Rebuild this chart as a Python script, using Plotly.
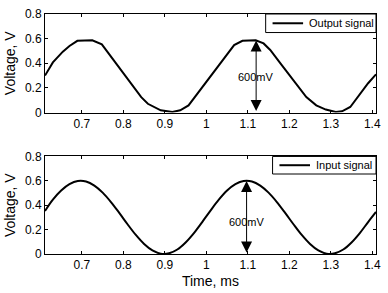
import plotly.graph_objects as go

# Output signal (top), vertices
t_out = [0.611, 0.63, 0.654, 0.67, 0.689, 0.725, 0.748, 0.77, 0.795, 0.82, 0.843,
         0.859, 0.878, 0.89, 0.918, 0.937, 0.957, 0.98, 1.005, 1.03, 1.05, 1.067,
         1.087, 1.119, 1.138, 1.154, 1.18, 1.2, 1.22, 1.241, 1.265, 1.288, 1.312,
         1.327, 1.347, 1.37, 1.39, 1.409]
v_out = [0.30, 0.407, 0.494, 0.54, 0.582, 0.587, 0.553, 0.454, 0.341, 0.229, 0.125,
         0.071, 0.04, 0.018, 0.005, 0.018, 0.058, 0.160, 0.272, 0.383, 0.472, 0.548,
         0.582, 0.587, 0.561, 0.508, 0.393, 0.305, 0.217, 0.125, 0.058, 0.024, 0.005,
         0.01, 0.045, 0.148, 0.238, 0.31]

# Input signal (bottom)
t_in = [0.611, 0.63, 0.65, 0.67, 0.69, 0.71, 0.73, 0.75, 0.77, 0.79, 0.81, 0.83, 0.85,
        0.87, 0.89, 0.91, 0.93, 0.95, 0.97, 0.99, 1.01, 1.03, 1.05, 1.07, 1.09, 1.11,
        1.13, 1.15, 1.17, 1.19, 1.21, 1.23, 1.25, 1.27, 1.29, 1.31, 1.33, 1.35, 1.37,
        1.39, 1.409]
v_in = [0.352, 0.445, 0.52, 0.572, 0.598, 0.594, 0.561, 0.503, 0.426, 0.337, 0.244,
        0.156, 0.082, 0.029, 0.003, 0.006, 0.037, 0.095, 0.172, 0.262, 0.356, 0.445,
        0.52, 0.572, 0.598, 0.594, 0.561, 0.503, 0.426, 0.337, 0.244, 0.156, 0.082,
        0.029, 0.003, 0.006, 0.037, 0.095, 0.172, 0.262, 0.345]

x_ticks = [0.7, 0.8, 0.9, 1.0, 1.1, 1.2, 1.3, 1.4]
x_tick_labels = ["0.7", "0.8", "0.9", "1", "1.1", "1.2", "1.3", "1.4"]
y_ticks = [0, 0.2, 0.4, 0.6, 0.8]
y_tick_labels = ["0", "0.2", "0.4", "0.6", "0.8"]

arrow_top_x, arrow_top_y = 1.12, 0.585
arrow_bot_x, arrow_bot_y = 1.097, 0.598
label_text = "600mV"

W, H = 388, 293
ml, mr, mt, mb = 45, 7, 8, 39
ph = H - mt - mb
pw = W - ml - mr

def ypos(px):
    return (H - mb - px) / ph

fig = go.Figure()
fig.add_trace(go.Scatter(x=t_out, y=v_out, mode="lines", name="Output signal",
                         line=dict(color="black", width=2), xaxis="x", yaxis="y"))
fig.add_trace(go.Scatter(x=t_in, y=v_in, mode="lines", name="Input signal",
                         line=dict(color="black", width=2, shape="spline"),
                         xaxis="x2", yaxis="y2"))

font = "Liberation Sans, Arial, sans-serif"
axcommon = dict(range=[0.611, 1.409], tickvals=x_ticks, ticktext=x_tick_labels,
                ticks="inside", ticklen=3, tickcolor="black", mirror="ticks",
                showline=True, linecolor="black", linewidth=1, showgrid=False,
                zeroline=False, tickfont=dict(size=12, color="black", family=font))
aycommon = dict(range=[0, 0.8], tickvals=y_ticks, ticktext=y_tick_labels,
                ticks="inside", ticklen=3, tickcolor="black", mirror="ticks",
                showline=True, linecolor="black", linewidth=1, showgrid=False,
                zeroline=False, tickfont=dict(size=12, color="black", family=font),
                title=dict(text="Voltage, V", font=dict(size=14, color="black", family=font),
                           standoff=6))

top_dom = [ypos(109), 1.0]
bot_dom = [0.0, ypos(154)]

fig.update_layout(
    width=W, height=H, autosize=False,
    margin=dict(l=ml, r=mr, t=mt, b=mb),
    paper_bgcolor="white", plot_bgcolor="white",
    showlegend=False,
    xaxis=dict(**axcommon, anchor="y", domain=[0, 1]),
    yaxis=dict(**aycommon, anchor="x", domain=top_dom),
    xaxis2=dict(**axcommon, anchor="y2", domain=[0, 1],
                title=dict(text="Time, ms", font=dict(size=14, color="black", family=font),
                           standoff=4)),
    yaxis2=dict(**aycommon, anchor="x2", domain=bot_dom),
)

def legend_box(x0, x1, y0, y1, text):
    fig.add_shape(type="rect", xref="paper", yref="paper", x0=x0, x1=x1, y0=y0, y1=y1,
                  line=dict(color="black", width=1), fillcolor="white")
    ly = (y0 + y1) / 2
    fig.add_shape(type="line", xref="paper", yref="paper",
                  x0=x0 + 7 / pw, x1=x0 + 38 / pw, y0=ly, y1=ly,
                  line=dict(color="black", width=2))
    fig.add_annotation(xref="paper", yref="paper", x=x0 + 42 / pw, y=ly, text=text,
                       showarrow=False, xanchor="left", yanchor="middle",
                       font=dict(size=11, color="black", family=font))

legend_box((269 - ml) / pw, 1.0, ypos(27), 1.0, "Output signal")
legend_box((276 - ml) / pw, 1.0, ypos(172), ypos(154), "Input signal")

for xr, yr, ax_x, top_y, lab_y in [("x", "y", arrow_top_x, arrow_top_y, 0.29),
                                    ("x2", "y2", arrow_bot_x, arrow_bot_y, 0.264)]:
    fig.add_annotation(x=ax_x, y=top_y, ax=ax_x, ay=0.0, xref=xr, yref=yr,
                       axref=xr, ayref=yr, showarrow=True, text="",
                       arrowhead=2, startarrowhead=2, arrowside="end+start",
                       arrowsize=2.2, startarrowsize=2.2, arrowwidth=1, arrowcolor="black")
    fig.add_annotation(x=ax_x, y=lab_y, xref=xr, yref=yr, text=label_text,
                       showarrow=False, xanchor="center", yanchor="middle",
                       font=dict(size=11, color="black", family=font))

fig.write_html("out.html", config={"displayModeBar": False},
               post_script="document.body.style.margin='0';document.body.style.overflow='hidden';")
